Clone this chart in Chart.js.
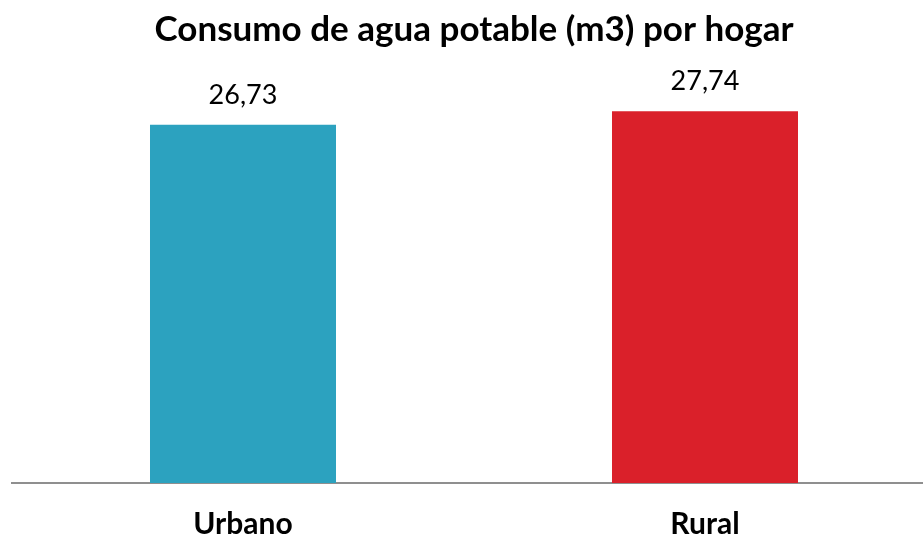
<!DOCTYPE html>
<html>
<head>
<meta charset="utf-8">
<script src="https://cdn.jsdelivr.net/npm/chart.js@4.4.1/dist/chart.umd.min.js"></script>
<style>
  html, body { margin: 0; padding: 0; background: #ffffff; overflow: hidden; }
  #wrap { position: relative; width: 936px; height: 537px; }
</style>
</head>
<body>
<div id="wrap"><canvas id="c" width="936" height="537"></canvas></div>
<script>
const chartTitle = "Consumo de agua potable (m3) por hogar";
const categories = ["Urbano", "Rural"];
const values = [26.73, 27.74];
const barColors = ["#2CA2BF", "#DA202A"];
const yMax = 30;

const valueLabels = {
  id: 'valueLabels',
  afterDatasetsDraw(chart) {
    const ctx = chart.ctx;
    const meta = chart.getDatasetMeta(0);
    ctx.save();
    ctx.font = "400 27px Lato";
    ctx.fillStyle = "#000000";
    ctx.textAlign = "center";
    ctx.textBaseline = "middle";
    meta.data.forEach((bar, i) => {
      const txt = values[i].toFixed(2).replace('.', ',');
      ctx.fillText(txt, bar.x, bar.y - 30);
    });
    ctx.restore();
  }
};

new Chart(document.getElementById('c'), {
  type: 'bar',
  data: {
    labels: categories,
    datasets: [{
      data: values,
      backgroundColor: barColors,
      borderWidth: 0,
      barPercentage: 1,
      categoryPercentage: 0.4026
    }]
  },
  options: {
    responsive: false,
    animation: false,
    layout: { padding: { left: 12, right: 0, top: 0, bottom: 1 } },
    plugins: {
      legend: { display: false },
      tooltip: { enabled: false },
      title: {
        display: true,
        text: chartTitle,
        color: "#000000",
        font: { family: "Lato", size: 35, weight: "bold", lineHeight: 1.2 },
        padding: { top: 9, bottom: 30 }
      }
    },
    scales: {
      x: {
        offset: true,
        grid: { display: false, drawTicks: false },
        border: { display: true, color: "#8F8F8F", width: 2 },
        ticks: {
          color: "#000000",
          padding: 23,
          font: { family: "Lato", size: 30, weight: "bold", lineHeight: 1.2 }
        },
        afterFit(scale) { scale.height = 53; }
      },
      y: {
        display: false,
        min: 0,
        max: yMax,
        grid: { display: false }
      }
    }
  },
  plugins: [valueLabels]
});
</script>
</body>
</html>
